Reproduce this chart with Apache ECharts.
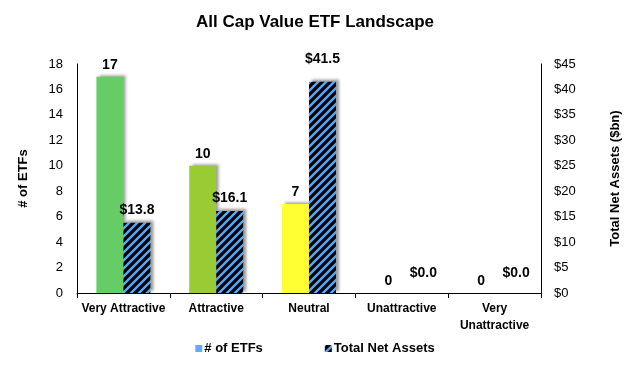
<!DOCTYPE html>
<html>
<head>
<meta charset="utf-8">
<script src="https://cdn.jsdelivr.net/npm/echarts@6/dist/echarts.min.js"></script>
<style>html,body{margin:0;padding:0;background:#fff}#c{width:630px;height:367px}</style>
</head>
<body>
<div id="c"></div>
<script>
const categories = ['Very Attractive', 'Attractive', 'Neutral', 'Unattractive', 'Very\nUnattractive'];
const etfCounts = [17, 10, 7, 0, 0];
const totalNetAssets = [13.8, 16.1, 41.5, 0.0, 0.0];
const barColors = ['#66CC66', '#99CC33', '#FFFF33', '#66CC66', '#66CC66'];
const leftTicks = {min: 0, max: 18, interval: 2};
const rightTicks = {min: 0, max: 45, interval: 5};

function makeHatch() {
  const s = 8;
  const cv = document.createElement('canvas');
  cv.width = s; cv.height = s;
  const ctx = cv.getContext('2d');
  ctx.fillStyle = '#000';
  ctx.fillRect(0, 0, s, s);
  ctx.strokeStyle = '#5AA8F5';
  ctx.lineWidth = 2.4;
  ctx.beginPath();
  ctx.moveTo(-2, s + 2); ctx.lineTo(s + 2, -2);
  ctx.moveTo(-2, 2); ctx.lineTo(2, -2);
  ctx.moveTo(s - 2, s + 2); ctx.lineTo(s + 2, s - 2);
  ctx.stroke();
  return cv;
}
const hatch = {image: makeHatch(), repeat: 'repeat'};
const font = 'Liberation Sans, Arial, sans-serif';
const shadow = {shadowColor: 'rgba(0,0,0,0.4)', shadowBlur: 3, shadowOffsetX: 3, shadowOffsetY: -2};

const chart = echarts.init(document.getElementById('c'), null, {renderer: 'canvas'});
chart.setOption({
  animation: false,
  textStyle: {fontFamily: font},
  title: {
    text: 'All Cap Value ETF Landscape', left: 'center', top: 9,
    textStyle: {fontFamily: font, fontSize: 17, fontWeight: 'bold', color: '#000'}
  },
  legend: {
    bottom: 7, left: 'center', itemWidth: 7, itemHeight: 7, itemGap: 62,
    textStyle: {fontFamily: font, fontSize: 13, fontWeight: 'bold', color: '#000', padding: [0, 0, 0, -3]},
    data: [
      {name: '# of ETFs', icon: 'rect', itemStyle: {color: '#66AAFF'}},
      {name: 'Total Net Assets', icon: 'rect', itemStyle: {color: hatch}}
    ]
  },
  grid: {left: 77, right: 87, top: 64, bottom: 74},
  xAxis: {
    type: 'category', data: categories,
    axisLine: {lineStyle: {color: '#000', width: 1}},
    axisTick: {show: true, length: 5, lineStyle: {color: '#000'}},
    axisLabel: {interval: 0, fontFamily: font, fontSize: 12, fontWeight: 'bold', color: '#000', margin: 7, lineHeight: 17}
  },
  yAxis: [
    {
      type: 'value', min: leftTicks.min, max: leftTicks.max, interval: leftTicks.interval,
      name: '# of ETFs', nameLocation: 'middle', nameRotate: 90, nameGap: 47,
      nameTextStyle: {fontFamily: font, fontSize: 13, fontWeight: 'bold', color: '#000'},
      axisLine: {show: true, lineStyle: {color: '#000'}},
      axisTick: {show: false}, splitLine: {show: false},
      axisLabel: {fontFamily: font, fontSize: 13, color: '#000', margin: 14}
    },
    {
      type: 'value', min: rightTicks.min, max: rightTicks.max, interval: rightTicks.interval,
      name: 'Total Net Assets ($bn)', nameLocation: 'middle', nameRotate: 90, nameGap: 68,
      nameTextStyle: {fontFamily: font, fontSize: 13, fontWeight: 'bold', color: '#000', verticalAlign: 'top'},
      axisLine: {show: true, lineStyle: {color: '#000'}},
      axisTick: {show: false}, splitLine: {show: false},
      axisLabel: {fontFamily: font, fontSize: 13, color: '#000', margin: 13, formatter: v => '$' + v}
    }
  ],
  series: [
    {
      name: '# of ETFs', type: 'bar', yAxisIndex: 0, barWidth: 27, barGap: '0%',
      data: etfCounts.map((v, i) => ({value: v, itemStyle: {color: barColors[i]}})),
      itemStyle: Object.assign({}, shadow),
      label: {show: true, position: 'top', distance: 5, fontFamily: font, fontSize: 14, fontWeight: 'bold', color: '#000'}
    },
    {
      name: 'Total Net Assets', type: 'bar', yAxisIndex: 1, barWidth: 27, barGap: '0%',
      data: totalNetAssets.map(v => ({
        value: v,
        label: v === 0 ? {offset: [8, -7]} : (v > 40 ? {offset: [0, -10]} : {})
      })),
      itemStyle: Object.assign({color: hatch}, shadow),
      label: {show: true, position: 'top', distance: 6, fontFamily: font, fontSize: 14, fontWeight: 'bold', color: '#000',
        formatter: p => '$' + p.value.toFixed(1)}
    }
  ]
});
</script>
</body>
</html>
